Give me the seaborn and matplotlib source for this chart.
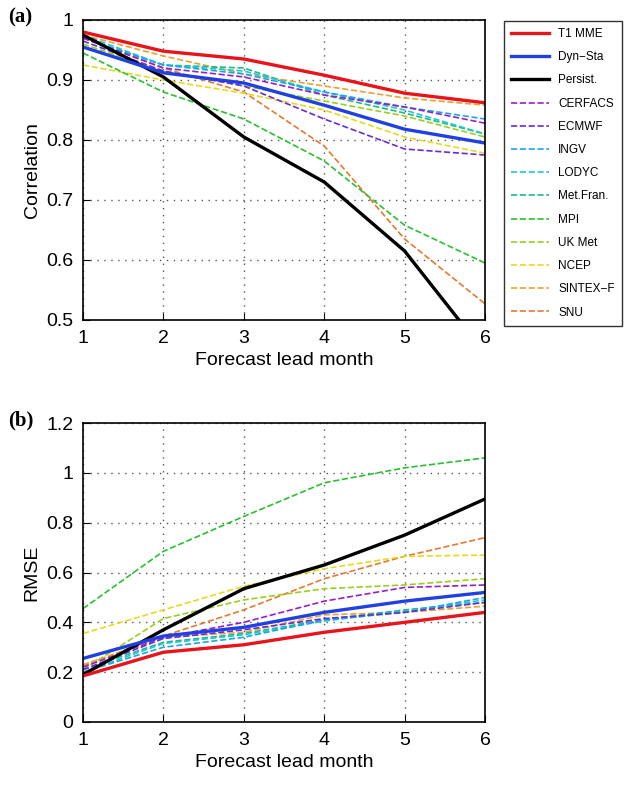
import numpy as np
import pandas as pd
import seaborn as sns
from matplotlib import pyplot as plt
from matplotlib.lines import Line2D

leads = [1, 2, 3, 4, 5, 6]
models = ['T1 MME', 'Dyn\u2212Sta', 'Persist.', 'CERFACS', 'ECMWF', 'INGV', 'LODYC',
          'Met.Fran.', 'MPI', 'UK Met', 'NCEP', 'SINTEX\u2212F', 'SNU']
colors = ['#e8141c', '#2040e0', '#000000', '#9a1ec8', '#6a2ad8', '#18a8e8', '#20c8d0',
          '#20b888', '#28c030', '#98d020', '#e8d820', '#f0a030', '#e87830']

corr = {
    'T1 MME':    [.980, .948, .935, .908, .878, .862],
    'Dyn\u2212Sta':   [.955, .912, .895, .858, .818, .795],
    'Persist.':  [.975, .905, .805, .730, .615, .445],
    'CERFACS':   [.970, .920, .905, .875, .855, .828],
    'ECMWF':     [.965, .915, .890, .835, .785, .775],
    'INGV':      [.970, .925, .910, .880, .855, .835],
    'LODYC':     [.975, .925, .915, .880, .850, .810],
    'Met.Fran.': [.970, .925, .920, .875, .845, .810],
    'MPI':       [.945, .880, .835, .765, .658, .595],
    'UK Met':    [.960, .915, .890, .865, .840, .805],
    'NCEP':      [.925, .900, .878, .850, .805, .778],
    'SINTEX\u2212F':  [.975, .940, .910, .890, .870, .858],
    'SNU':       [.970, .920, .880, .790, .635, .527],
}
rmse = {
    'T1 MME':    [.185, .280, .310, .360, .400, .440],
    'Dyn\u2212Sta':   [.255, .345, .380, .440, .485, .520],
    'Persist.':  [.190, .370, .535, .630, .750, .895],
    'CERFACS':   [.220, .340, .400, .485, .540, .550],
    'ECMWF':     [.210, .335, .370, .415, .440, .480],
    'INGV':      [.200, .300, .340, .410, .440, .500],
    'LODYC':     [.200, .315, .350, .405, .445, .490],
    'Met.Fran.': [.210, .320, .355, .410, .450, .480],
    'MPI':       [.455, .685, .825, .960, 1.02, 1.06],
    'UK Met':    [.210, .415, .490, .535, .550, .575],
    'NCEP':      [.355, .450, .545, .615, .665, .670],
    'SINTEX\u2212F':  [.230, .340, .360, .430, .440, .465],
    'SNU':       [.225, .345, .450, .575, .665, .740],
}

plt.rcParams['font.family'] = ['Liberation Sans', 'DejaVu Sans']
fig = plt.figure(figsize=(6.28, 7.86), dpi=100)
ax1 = fig.add_axes([83/628, 1 - 320/786, 402/628, 300/786])
ax2 = fig.add_axes([83/628, 1 - 722/786, 402/628, 299/786])

# draw models first, then the solid lines on top
order = models[3:][::-1] + ['Persist.', 'Dyn\u2212Sta', 'T1 MME']
for ax, data in [(ax1, corr), (ax2, rmse)]:
    for m in order:
        i = models.index(m)
        solid = i < 3
        df = pd.DataFrame({'lead': leads, 'val': data[m]})
        sns.lineplot(data=df, x='lead', y='val', ax=ax, color=colors[i],
                     lw=2.4 if solid else 1.2, linestyle='-' if solid else '--')
    ax.set_xlim(1, 6)
    ax.set_xticks(leads)
    ax.grid(color='#555555', linestyle=(0, (1, 4)), lw=1)
    ax.tick_params(labelsize=14, direction='in', length=5, pad=7)
    ax.set_xlabel('Forecast lead month', fontsize=14, labelpad=4)
    for s in ax.spines.values():
        s.set_linewidth(1.2)

ax1.set_ylim(0.5, 1)
ax1.set_yticks([0.5, 0.6, 0.7, 0.8, 0.9, 1])
ax1.set_yticklabels(['0.5', '0.6', '0.7', '0.8', '0.9', '1'])
ax1.set_ylabel('Correlation', fontsize=14)
ax2.set_ylim(0, 1.2)
ax2.set_yticks([0, 0.2, 0.4, 0.6, 0.8, 1, 1.2])
ax2.set_yticklabels(['0', '0.2', '0.4', '0.6', '0.8', '1', '1.2'])
ax2.set_ylabel('RMSE', fontsize=14)

fig.text(8/628, 1 - 22/786, '(a)', fontsize=15, fontweight='bold', family='Liberation Serif')
fig.text(8/628, 1 - 425/786, '(b)', fontsize=15, fontweight='bold', family='Liberation Serif')

handles = [Line2D([], [], color=c, lw=2.4 if i < 3 else 1.2, linestyle='-' if i < 3 else '--')
           for i, c in enumerate(colors)]
fig.legend(handles, models, loc='upper left', bbox_to_anchor=(498/628, 1 - 15/786),
           fontsize=8.5, frameon=True, fancybox=False, edgecolor='black',
           handlelength=3.2, labelspacing=0.95, borderpad=0.6)

fig.savefig('out.png', dpi=100)
